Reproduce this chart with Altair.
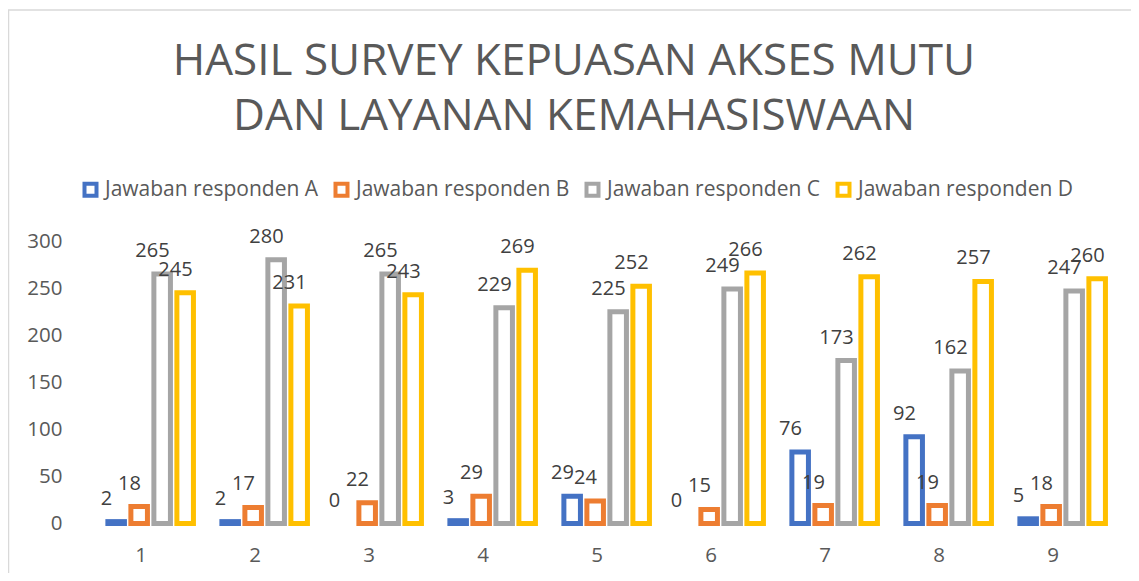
import altair as alt
import pandas as pd

categories = ["1", "2", "3", "4", "5", "6", "7", "8", "9"]
series = ["Jawaban responden A", "Jawaban responden B", "Jawaban responden C", "Jawaban responden D"]
values_a = [2, 2, 0, 3, 29, 0, 76, 92, 5]
values_b = [18, 17, 22, 29, 24, 15, 19, 19, 18]
values_c = [265, 280, 265, 229, 225, 249, 173, 162, 247]
values_d = [245, 231, 243, 269, 252, 266, 262, 257, 260]
colors = ["#4472C4", "#ED7D31", "#A5A5A5", "#FFC000"]
y_ticks = [0, 50, 100, 150, 200, 250, 300]
title_lines = ["HASIL SURVEY KEPUASAN AKSES MUTU", "DAN LAYANAN KEMAHASISWAAN"]

rows = []
for s, vals in zip(series, [values_a, values_b, values_c, values_d]):
    for c, v in zip(categories, vals):
        rows.append({"cat": c, "series": s, "value": v})
df = pd.DataFrame(rows)

FONT = "Open Sans"

x_enc = alt.X("cat:N", sort=categories,
              scale=alt.Scale(paddingInner=0.193, paddingOuter=0.0965),
              axis=alt.Axis(title=None, labelAngle=0, domain=False, ticks=False, tickSize=0,
                            labelPadding=22, labelFontSize=20.5, labelColor="#595959",
                            labelFont=FONT))
xo_enc = alt.XOffset("series:N", sort=series, scale=alt.Scale(paddingInner=0, paddingOuter=0))
y_enc = alt.Y("value:Q", scale=alt.Scale(domain=[0, 300], nice=False),
              axis=alt.Axis(title=None, values=y_ticks, grid=False, domain=False, ticks=False,
                            tickSize=0, labelPadding=22, labelFontSize=20.5, labelColor="#595959",
                            labelFont=FONT))

base = alt.Chart(df)

bars = base.mark_bar(fill="white", strokeWidth=5, width=alt.RelativeBandSize(0.72)).encode(
    x=x_enc, xOffset=xo_enc, y=y_enc,
    stroke=alt.Stroke("series:N", sort=series,
                      scale=alt.Scale(domain=series, range=colors),
                      legend=alt.Legend(title=None, orient="none", direction="horizontal",
                                        legendX=-4, legendY=-62, symbolType="square",
                                        symbolSize=144, symbolStrokeWidth=4,
                                        symbolFillColor="white", labelFontSize=21,
                                        labelColor="#595959", labelFont=FONT, labelLimit=0,
                                        labelOffset=4, columnPadding=8, padding=0)),
).transform_filter("datum.value > 0")

labels = base.mark_text(dy=-17, baseline="alphabetic", fontSize=20, color="#404040",
                        font=FONT).encode(
    x=x_enc, xOffset=xo_enc, y=y_enc, text=alt.Text("value:Q"))

frame_df = pd.DataFrame({"a": [0]})
frame_v = alt.Chart(frame_df).mark_rule(color="#D9D9D9", strokeWidth=1.5).encode(
    x=alt.value(-75.5), y=alt.value(-231), y2=alt.value(340))
frame_h = alt.Chart(frame_df).mark_rule(color="#D9D9D9", strokeWidth=1.5).encode(
    x=alt.value(-76), x2=alt.value(1100), y=alt.value(-231))

chart = alt.layer(frame_v, frame_h, bars, labels).properties(
    width=1026, height=282.5,
    title=alt.Title(title_lines, fontSize=44, font=FONT, fontWeight="normal",
                    color="#595959", anchor="middle", frame="group", dx=-23,
                    lineHeight=55, offset=-130),
    autosize=alt.AutoSizeParams(type="none"),
    padding={"left": 76, "top": 233, "right": 21, "bottom": 49.5},
).configure_view(stroke=None)

chart.save("out.html", embed_options={"renderer": "svg", "actions": False})
